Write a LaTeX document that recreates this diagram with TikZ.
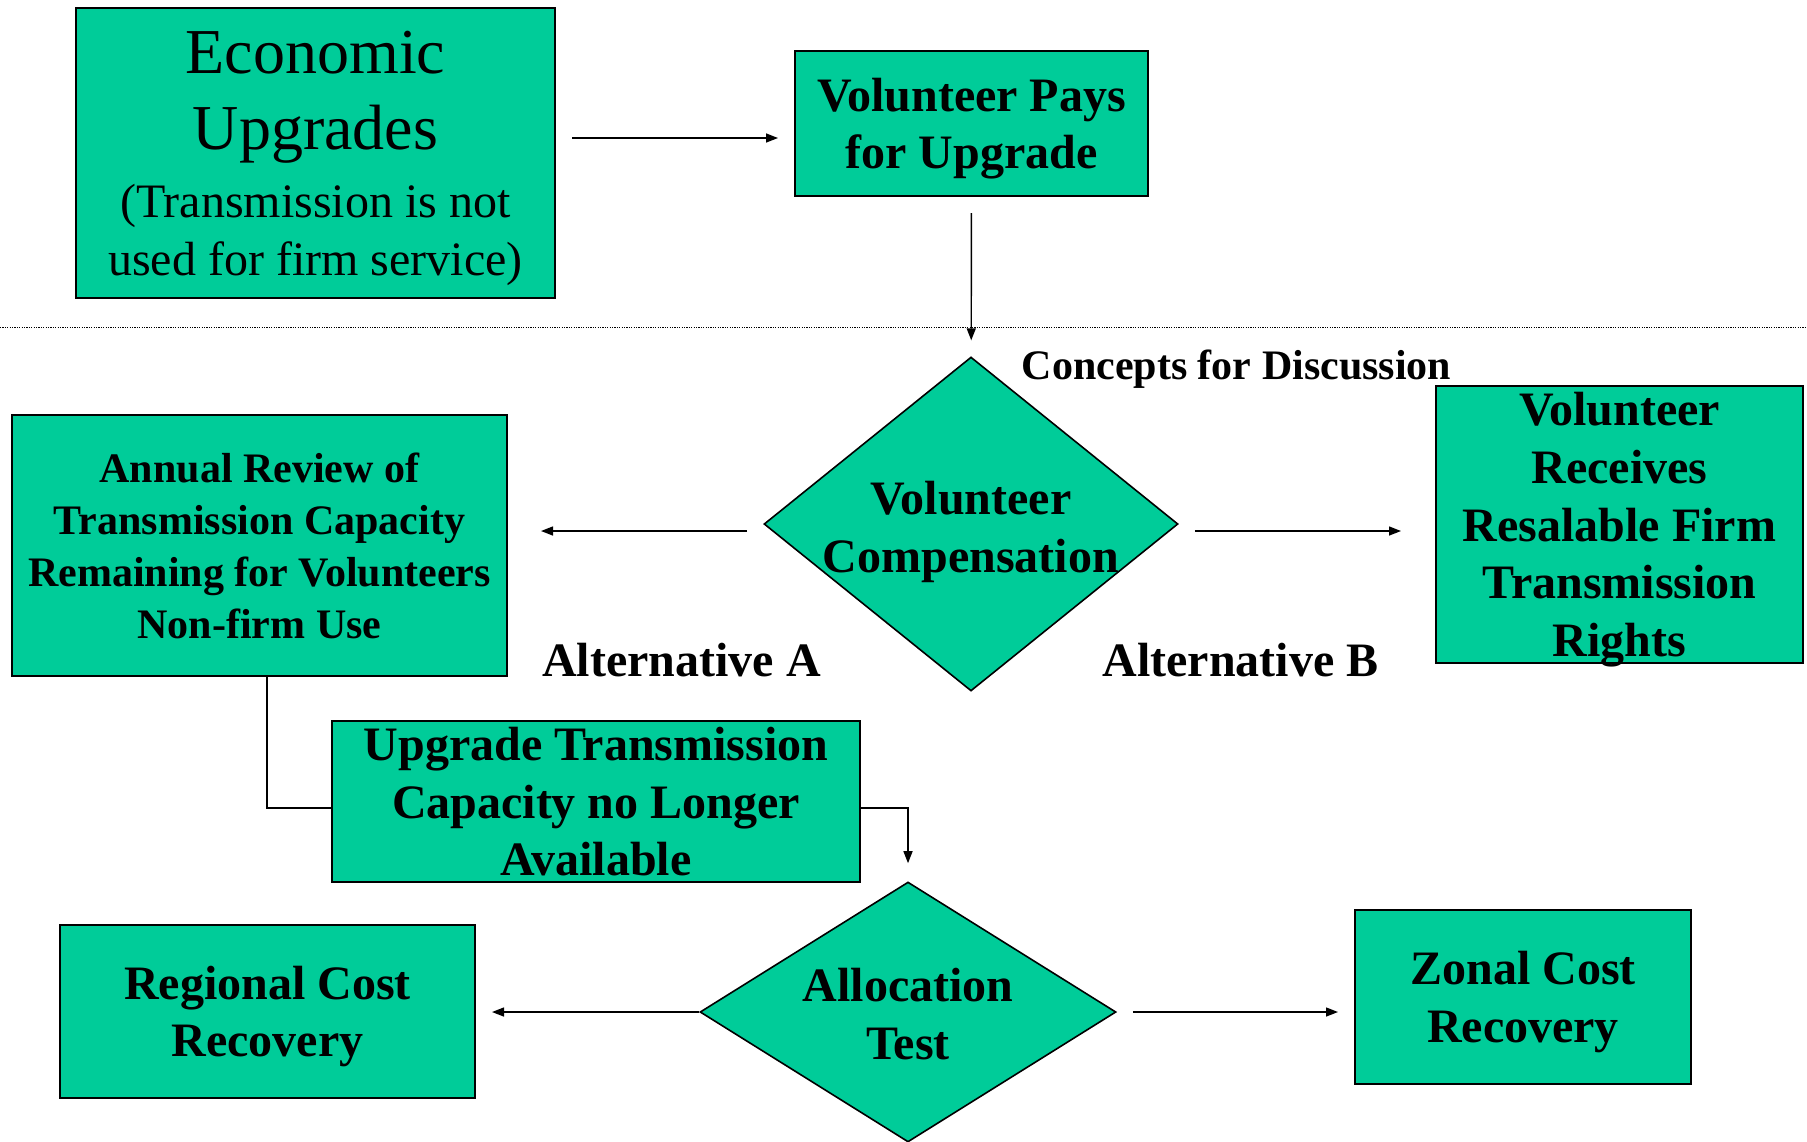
\documentclass[tikz,border=0pt]{standalone}
\usepackage{fontspec}
\setmainfont{Liberation Serif}
\usetikzlibrary{shapes.geometric,arrows.meta}

\definecolor{boxGreen}{RGB}{0,204,153}

\begin{document}
\begin{tikzpicture}
[x=0.5pt,y=-0.5pt,
  darkArrow/.style={->,>={Triangle[length=6pt,width=4.5pt]},line width=0.7pt,shorten >=8pt,shorten <=8pt},%
  plainLine/.style={line width=0.7pt},%
  boxDecorate/.style={shape=rectangle,draw,line width=1pt,fill=boxGreen,inner sep=0pt,align=center,text depth=0pt},%
  diamondDecorate/.style={shape=diamond,draw,line width=0.8pt,fill=boxGreen,inner sep=0pt},%
  bigText/.style={font=\fontsize{24}{28.8}\selectfont\bfseries},%
  smallText/.style={font=\fontsize{21}{26}\selectfont\bfseries}]
\useasboundingbox (0,0) rectangle (1807,1141);
%% boxes
\node (econ) at (315.5,153) [boxDecorate,minimum width=239.5pt,minimum height=145pt,
  font=\fontsize{32}{38}\selectfont]
  {Economic\\ Upgrades\\[-4pt]
   {\fontsize{24}{29}\selectfont (Transmission is not}\\[-9pt]
   {\fontsize{24}{29}\selectfont used for firm service)}};
\node (vpays) at (971.5,123.5) [boxDecorate,bigText,minimum width=176.5pt,minimum height=72.5pt]
  {Volunteer Pays\\for Upgrade};
\node (annual) at (259.5,545.5) [boxDecorate,smallText,minimum width=247.5pt,minimum height=130.5pt]
  {Annual Review of\\Transmission Capacity\\Remaining for Volunteers\\Non-firm Use};
\node (vrec) at (1619.5,524.5) [boxDecorate,bigText,minimum width=183.5pt,minimum height=138.5pt]
  {Volunteer\\Receives\\Resalable Firm\\Transmission\\Rights};
\node (upgrade) at (596,801.5) [boxDecorate,bigText,minimum width=264pt,minimum height=80.5pt]
  {Upgrade Transmission\\Capacity no Longer\\Available};
\node (regional) at (267.5,1011.5) [boxDecorate,bigText,minimum width=207.5pt,minimum height=86.5pt]
  {Regional Cost\\Recovery};
\node (zonal) at (1523,997) [boxDecorate,bigText,minimum width=168pt,minimum height=87pt]
  {Zonal Cost\\Recovery};
%% diamonds
\node (vcomp) at (971,524) [diamondDecorate,minimum width=207pt,minimum height=167pt] {};
\node (vcompText) at (971,527) [bigText,align=center,text depth=0pt] {Volunteer\\Compensation};
\node (alloc) at (908,1012) [diamondDecorate,minimum width=208pt,minimum height=130pt] {};
\node (allocText) at (908,1014) [bigText,align=center] {Allocation\\Test};
%% labels
\node (concepts) at (1236.5,369) [font=\fontsize{21}{25}\selectfont\bfseries] {Concepts for Discussion};
\node (altA) at (681.5,660) [bigText] {Alternative A};
\node (altB) at (1240.5,660) [bigText] {Alternative B};
%% separator
\draw[line width=0.5pt,dash pattern=on 0.6pt off 0.6pt] (0,327) -- (1807,327);
%% connectors
\draw[darkArrow] (econ.east |- 0,138) -- (vpays.west |- 0,138);
\draw[darkArrow] (vpays) -- (vcomp);
\foreach \endnode/\fromside/\toside/\gap in {annual/west/east/16.5pt, vrec/east/west/17pt}
{
  \draw[darkArrow,shorten >=\gap] (vcomp.\fromside |- 0,531) -- (\endnode.\toside |- 0,531);
}
\draw[plainLine] (annual.south -| 267,0) |- (upgrade.west |- 0,808);
\draw[darkArrow,shorten <=0pt,shorten >=9pt] (upgrade.east |- 0,808) -| (alloc.north);
\draw[darkArrow,shorten <=0pt] (alloc.west) -- (alloc.west -| regional.east);
\draw[darkArrow] (alloc.east) -- (alloc.east -| zonal.west);
\end{tikzpicture}
\end{document}
